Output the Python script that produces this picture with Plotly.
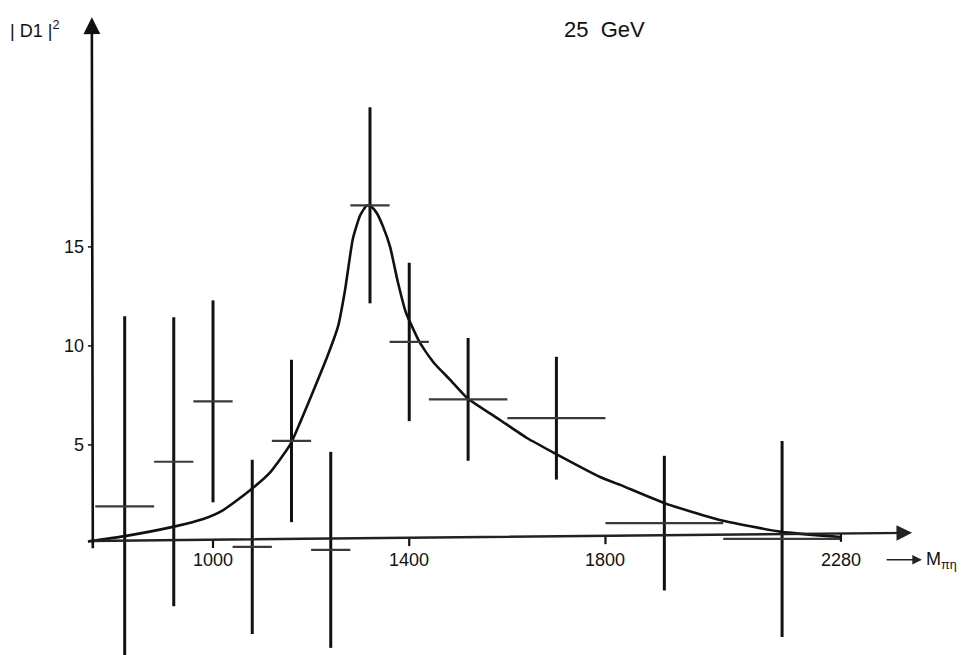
import plotly.graph_objects as go

# ---- data ----
bin_edges = [760, 880, 960, 1040, 1120, 1200, 1280, 1360, 1440, 1600, 1800, 2040, 2280]
values = [1.9, 4.15, 7.2, -0.15, 5.2, -0.3, 17.1, 10.2, 7.3, 6.35, 1.05, 0.25]
errors = [9.6, 7.3, 5.1, 4.4, 4.1, 4.95, 4.95, 4.0, 3.1, 3.1, 3.4, 4.95]

curve_x = [745, 817, 918, 980, 1020, 1075, 1116, 1157, 1177, 1204, 1232, 1255, 1269, 1285, 1300,
           1314, 1324, 1334, 1347, 1361, 1377, 1393, 1422, 1450, 1483, 1518, 1585, 1640,
           1695, 1789, 1830, 1919, 2033, 2158, 2280]
curve_y = [0.12, 0.38, 0.86, 1.26, 1.7, 2.7, 3.6, 5.0, 6.1, 7.7, 9.4, 11.0, 12.8, 15.4, 16.6,
           17.1, 17.0, 16.7, 16.0, 15.0, 13.2, 11.7, 10.15, 9.15, 8.3, 7.37, 6.26, 5.35,
           4.6, 3.38, 2.98, 2.07, 1.21, 0.61, 0.35]

x_ticks = [1000, 1400, 1800, 2280]
x_tick_labels = ["1000", "1400", "1800", "2280"]
y_ticks = [5, 10, 15]
y_tick_labels = ["5", "10", "15"]

# axes (slightly tilted as in the scan)
x_axis_start = (745, 0.15)
x_axis_end = (2425, 0.56)
y_axis_x = 755
y_axis_range = (-0.3, 26.6)

title_text = "25  GeV"
y_title = "| D1 |<sup>2</sup>"
x_title = "M<sub>πη</sub>"

# ---- figure ----
centers = [(a + b) / 2 for a, b in zip(bin_edges[:-1], bin_edges[1:])]
halfw = [(b - a) / 2 for a, b in zip(bin_edges[:-1], bin_edges[1:])]

INK = "#111111"
FONT = "Liberation Sans Narrow, Arial Narrow, Liberation Sans, Arial, sans-serif"

fig = go.Figure()

# fitted curve
fig.add_trace(go.Scatter(x=curve_x, y=curve_y, mode="lines",
                         line=dict(color=INK, width=2.6, shape="spline", smoothing=0.5),
                         hoverinfo="skip"))

# data points with bin widths and errors
fig.add_trace(go.Scatter(
    x=centers, y=values, mode="markers",
    marker=dict(size=1, color="rgba(0,0,0,0)"),
    error_x=dict(type="data", array=halfw, visible=True, thickness=2.2, width=0, color="#3a3a3a"),
    error_y=dict(type="data", array=errors, visible=True, thickness=3, width=0, color=INK),
))

# x tick marks
for t in x_ticks:
    frac = (t - x_axis_start[0]) / (x_axis_end[0] - x_axis_start[0])
    ya = x_axis_start[1] + frac * (x_axis_end[1] - x_axis_start[1])
    fig.add_trace(go.Scatter(x=[t, t], y=[ya, ya - 0.42], mode="lines",
                             line=dict(color=INK, width=2.2), hoverinfo="skip"))
# y tick marks
for t in y_ticks:
    fig.add_trace(go.Scatter(x=[745, y_axis_x], y=[t, t], mode="lines",
                             line=dict(color=INK, width=1.5), hoverinfo="skip"))

annotations = []
# x axis with arrow
annotations.append(dict(x=x_axis_end[0], y=x_axis_end[1], ax=x_axis_start[0], ay=x_axis_start[1],
                        xref="x", yref="y", axref="x", ayref="y", text="", showarrow=True,
                        arrowhead=2, arrowsize=1.3, arrowwidth=2.4, arrowcolor="#222222"))
# y axis with arrow
annotations.append(dict(x=y_axis_x - 2, y=y_axis_range[1], ax=y_axis_x, ay=y_axis_range[0],
                        xref="x", yref="y", axref="x", ayref="y", text="", showarrow=True,
                        arrowhead=2, arrowsize=1.3, arrowwidth=2.6, arrowcolor=INK))
# x label arrow
annotations.append(dict(x=2445, y=-0.8, ax=2370, ay=-0.8,
                        xref="x", yref="y", axref="x", ayref="y", text="", showarrow=True,
                        arrowhead=2, arrowsize=1.2, arrowwidth=1.6, arrowcolor="#222222"))
annotations.append(dict(x=2450, y=-0.85, xref="x", yref="y", text=x_title, showarrow=False,
                        xanchor="left", yanchor="middle",
                        font=dict(family=FONT, size=18, color=INK)))

for t, lab in zip(x_ticks, x_tick_labels):
    annotations.append(dict(x=t, y=-0.8, xref="x", yref="y", text=lab, showarrow=False,
                            xanchor="center", yanchor="middle",
                            font=dict(family=FONT, size=18, color=INK)))
for t, lab in zip(y_ticks, y_tick_labels):
    annotations.append(dict(x=741, y=t, xref="x", yref="y", text=lab, showarrow=False,
                            xanchor="right", yanchor="middle",
                            font=dict(family=FONT, size=18, color=INK)))

annotations.append(dict(x=1799, y=26.0, xref="x", yref="y", text=title_text, showarrow=False,
                        xanchor="center", yanchor="middle",
                        font=dict(family="Liberation Sans, Arial, sans-serif", size=22, color=INK)))
annotations.append(dict(x=583, y=26.0, xref="x", yref="y", text=y_title, showarrow=False,
                        xanchor="left", yanchor="middle",
                        font=dict(family=FONT, size=18, color=INK)))

fig.update_layout(
    width=971, height=655,
    margin=dict(l=0, r=0, t=0, b=0),
    paper_bgcolor="white", plot_bgcolor="white",
    showlegend=False,
    annotations=annotations,
    xaxis=dict(range=[565.8, 2545.1], visible=False, fixedrange=True),
    yaxis=dict(range=[-5.61, 27.47], visible=False, fixedrange=True),
)

fig.write_html("out.html")
